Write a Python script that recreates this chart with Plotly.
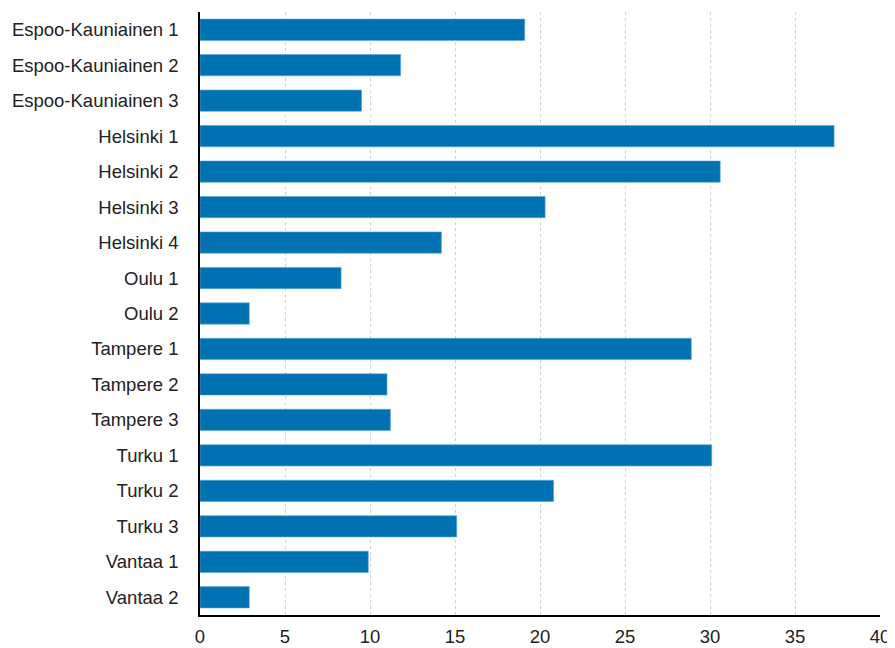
import plotly.graph_objects as go

categories = ["Espoo-Kauniainen 1", "Espoo-Kauniainen 2", "Espoo-Kauniainen 3",
              "Helsinki 1", "Helsinki 2", "Helsinki 3", "Helsinki 4",
              "Oulu 1", "Oulu 2", "Tampere 1", "Tampere 2", "Tampere 3",
              "Turku 1", "Turku 2", "Turku 3", "Vantaa 1", "Vantaa 2"]
values = [19.1, 11.8, 9.5, 37.3, 30.6, 20.3, 14.2, 8.3, 2.9, 28.9, 11.0, 11.2,
          30.1, 20.8, 15.1, 9.9, 2.9]
x_ticks = [0, 5, 10, 15, 20, 25, 30, 35, 40]

fig = go.Figure(go.Bar(
    x=values, y=categories, orientation="h",
    marker=dict(color="#0072b2", line=dict(color="#5aa6d6", width=0.6)),
    hoverinfo="x+y",
))

# page body has an 8px default margin; compensate so the plot lands where the reference has it
fig.update_layout(
    width=887, height=640,
    margin=dict(l=192, r=15, t=4, b=33),
    paper_bgcolor="white", plot_bgcolor="white",
    bargap=0.4,
    font=dict(family="Liberation Sans, Arial, sans-serif", size=18.5, color="#222222"),
    showlegend=False,
)
fig.update_xaxes(range=[0, 40], tickvals=x_ticks, showgrid=True,
                 gridcolor="#d0d0d0", griddash="dot", gridwidth=1,
                 showline=True, linecolor="black", linewidth=1.5,
                 zeroline=False, ticks="", ticklen=0, ticklabelstandoff=4,
                 automargin=False)
fig.update_yaxes(categoryorder="array", categoryarray=categories,
                 autorange="reversed", showline=True, linecolor="black",
                 linewidth=1.5, showgrid=False, ticks="", ticklabelstandoff=16,
                 automargin=False)

fig.write_html("out.html")
